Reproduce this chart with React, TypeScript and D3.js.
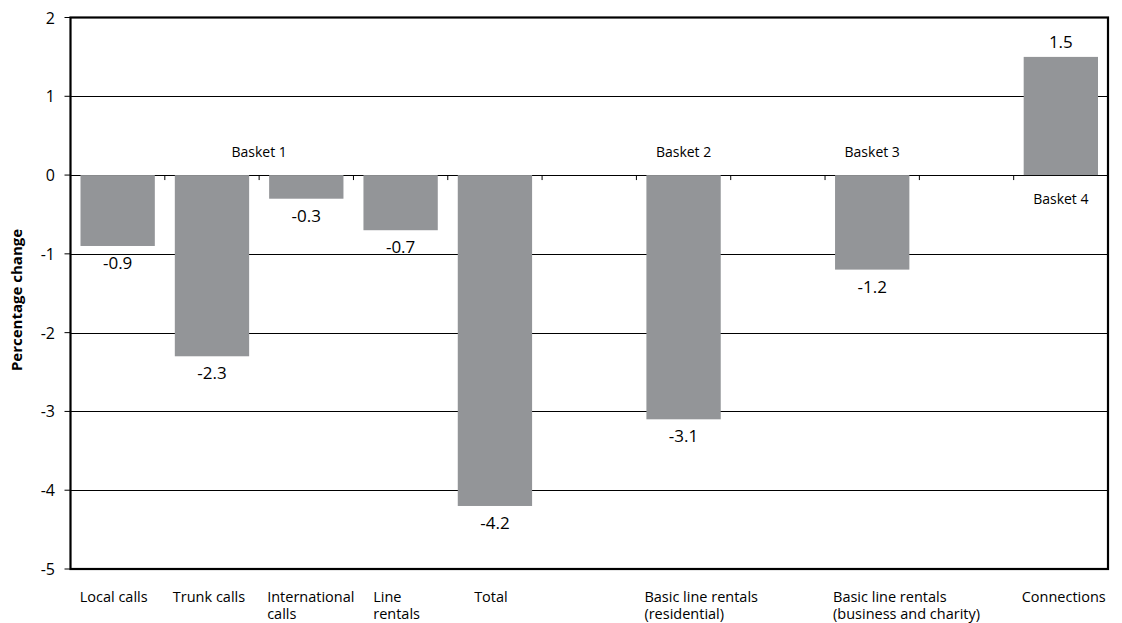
import React from "react";
import * as d3 from "d3";

const categories = [
  ["Local calls"],
  ["Trunk calls"],
  ["International", "calls"],
  ["Line", "rentals"],
  ["Total"],
  [""],
  ["Basic line rentals", "(residential)"],
  [""],
  ["Basic line rentals", "(business and charity)"],
  [""],
  ["Connections"],
];
const values: (number | null)[] = [-0.9, -2.3, -0.3, -0.7, -4.2, null, -3.1, null, -1.2, null, 1.5];
const valueLabels = ["-0.9", "-2.3", "-0.3", "-0.7", "-4.2", "", "-3.1", "", "-1.2", "", "1.5"];
const baskets = [
  { label: "Basket 1", from: 0, to: 3, below: false },
  { label: "Basket 2", from: 6, to: 6, below: false },
  { label: "Basket 3", from: 8, to: 8, below: false },
  { label: "Basket 4", from: 10, to: 10, below: true },
];
const yTicks = [2, 1, 0, -1, -2, -3, -4, -5];

const FONT = "'Open Sans', 'DejaVu Sans', sans-serif";
const CAT_SIZE = 14.5;

let ctx: CanvasRenderingContext2D | null = null;
function measure(text: string) {
  if (!ctx) ctx = document.createElement("canvas").getContext("2d");
  if (!ctx) return text.length * CAT_SIZE * 0.5;
  ctx.font = `${CAT_SIZE}px 'Open Sans', 'DejaVu Sans', sans-serif`;
  return ctx.measureText(text).width;
}

export default function App() {
  const W = 1122, H = 623;
  const left = 70.5, right = 1108, top = 17.5, bottom = 569;
  const idx = categories.map((_, i) => String(i));
  const x = d3.scaleBand().domain(idx).range([left, right]).paddingInner(0.212).paddingOuter(0.106);
  const y = d3.scaleLinear().domain([-5, 2]).range([bottom, top]);
  const step = x.step();
  const slotStart = (i: number) => left + i * step;

  return (
    <svg width={W} height={H} style={{ position: "absolute", left: 0, top: 0 }} fontFamily={FONT}>
      <rect x={0} y={0} width={W} height={H} fill="#fff" />
      {yTicks.filter((t) => t !== 2 && t !== -5).map((t) => (
        <line key={t} x1={left} x2={right} y1={Math.round(y(t)) + 0.5} y2={Math.round(y(t)) + 0.5} stroke="#000" strokeWidth={1} />
      ))}
      {d3.range(1, categories.length).map((i) => (
        <line key={i} x1={slotStart(i)} x2={slotStart(i)} y1={y(0)} y2={y(0) + 5} stroke="#000" strokeWidth={1} />
      ))}
      {values.map((v, i) =>
        v === null ? null : (
          <rect key={i} x={x(String(i))!} width={x.bandwidth()} y={y(Math.max(0, v))} height={Math.abs(y(v) - y(0))} fill="#939598" />
        )
      )}
      {values.map((v, i) =>
        v === null ? null : (
          <text key={i} x={x(String(i))! + x.bandwidth() / 2} y={v < 0 ? y(v) + 23 : y(v) - 9} textAnchor="middle" fontSize={17} fill="#000">
            {valueLabels[i]}
          </text>
        )
      )}
      {baskets.map((b) => {
        const cx = (x(String(b.from))! + x(String(b.to))! + x.bandwidth()) / 2;
        return (
          <text key={b.label} x={cx} y={b.below ? y(0) + 29 : y(0) - 18} textAnchor="middle" fontSize={14} fill="#000">
            {b.label}
          </text>
        );
      })}
      <rect x={left} y={top} width={right - left} height={bottom - top} fill="none" stroke="#000" strokeWidth={2.2} />
      {yTicks.map((t) => (
        <g key={t}>
          <line x1={left - 6} x2={left} y1={y(t)} y2={y(t)} stroke="#000" strokeWidth={1} />
          <text x={55} y={y(t) + 6} textAnchor="end" fontSize={16} fill="#000">
            {t}
          </text>
        </g>
      ))}
      {categories.map((lines, i) => {
        const w = Math.max(...lines.map((l) => measure(l)));
        const cx = x(String(i))! + x.bandwidth() / 2;
        const x0 = Math.max(x(String(i))! - 2, cx - w / 2 - 4);
        return (
          <text key={i} fontSize={CAT_SIZE} fill="#000">
            {lines.map((l, j) => (
              <tspan key={j} x={x0} y={602 + j * 17}>
                {l}
              </tspan>
            ))}
          </text>
        );
      })}
      <text transform={`translate(22, 300) rotate(-90)`} textAnchor="middle" fontSize={15} fontWeight="bold" fill="#000">
        Percentage change
      </text>
    </svg>
  );
}
